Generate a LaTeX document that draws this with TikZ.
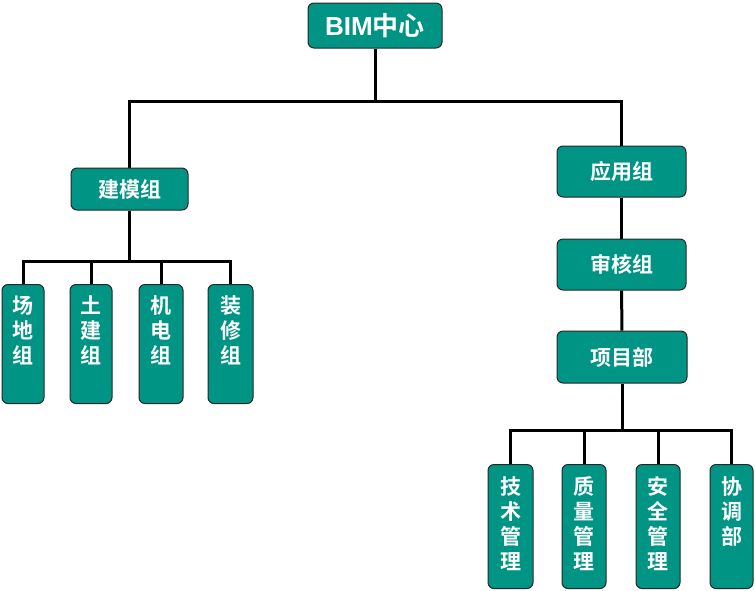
\documentclass[tikz,border=0pt]{standalone}
\usepackage{fontspec}
\newfontfamily\cjk{Noto Sans CJK SC}[BoldFont={Noto Sans CJK SC Bold}]
\newfontfamily\latn{Liberation Sans}
\definecolor{boxteal}{RGB}{0,148,133}
\newcommand{\colstack}[2]{\parbox[t][#1][t]{26pt}{\centering #2}}
\tikzset{
  box/.style={draw=black!85, fill=boxteal, line width=1pt, rounded corners=6pt,
    text=white, font=\cjk\bfseries\fontsize{21}{25}\selectfont, inner sep=0pt},
  leaf/.style={box, anchor=north, inner xsep=8pt, inner ysep=11pt},
  wire/.style={black, line width=3pt}
}
\begin{document}
\begin{tikzpicture}[x=1pt,y=-1pt]
\useasboundingbox (0,0) rectangle (755,590);
% top level
\node[box, minimum width=134, minimum height=45, font=\cjk\bfseries\fontsize{26}{30}\selectfont] (bim) at (375,25.5) {{\latn\bfseries BIM}中心};
\node[box, minimum width=117, minimum height=42] (jm) at (129.5,189) {建模组};
\node[box, minimum width=129, minimum height=51] (yy) at (621.5,171.5) {应用组};
\node[box, minimum width=129, minimum height=51] (sh) at (621.5,264.5) {审核组};
\node[box, minimum width=130, minimum height=52] (xm) at (622,357) {项目部};
% left leaves
\node[leaf, minimum width=40] (cd) at (23,284) {\colstack{97pt}{场\\地\\组}};
\node[leaf, minimum width=40] (tj) at (91,284) {\colstack{97pt}{土\\建\\组}};
\node[leaf, minimum width=44] (jd) at (161,284) {\colstack{97pt}{机\\电\\组}};
\node[leaf, minimum width=45] (zx) at (230.5,284) {\colstack{97pt}{装\\修\\组}};
% right leaves
\node[leaf, minimum width=45, inner ysep=12pt] (js) at (510.5,464) {\colstack{100pt}{技\\术\\管\\理}};
\node[leaf, minimum width=44, inner ysep=12pt] (zl) at (584,464) {\colstack{100pt}{质\\量\\管\\理}};
\node[leaf, minimum width=44, inner ysep=12pt] (aq) at (658,464) {\colstack{100pt}{安\\全\\管\\理}};
\node[leaf, minimum width=43, inner ysep=12pt] (xt) at (731.5,464) {\colstack{100pt}{协\\调\\部}};
% connectors
\coordinate (bus1) at (375,101);
\coordinate (bus2) at (129.5,261);
\coordinate (bus3) at (622,430);
\draw[wire] (bim.south) -- (bus1) -| (jm.north);
\draw[wire] (bus1) -| (yy.north);
\draw[wire] (yy) -- (sh);
\draw[wire] (sh) -- (xm);
\draw[wire] (jm.south) -- (bus2);
\foreach \n in {cd,tj,jd,zx}
  \draw[wire] (bus2) -| (\n.north);
\draw[wire] (xm.south) -- (bus3);
\foreach \n in {js,zl,aq,xt}
  \draw[wire] (bus3) -| (\n.north);
\end{tikzpicture}
\end{document}
